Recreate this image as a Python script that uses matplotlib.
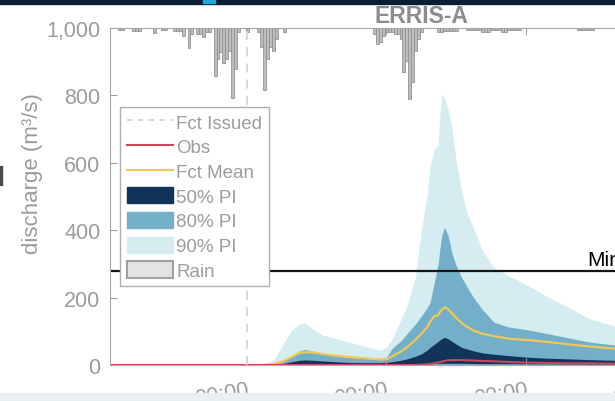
import numpy as np
import matplotlib.pyplot as plt
from matplotlib.patches import Patch, Rectangle
from matplotlib.lines import Line2D
from matplotlib.ticker import FuncFormatter

plt.rcParams['font.family'] = ['Liberation Sans', 'DejaVu Sans']

# horas relativas a la emision del pronostico
t_fc = [0, 2, 3.5, 4.5, 6, 7.5, 9, 10, 11.5, 13, 15, 17, 19.5, 21.5, 23, 24, 25, 26.5,
        27.5, 29, 30, 31, 31.5, 32.3, 32.9, 33.1, 33.5, 34, 34.6, 35.3, 36, 37, 38, 39,
        40.5, 42.5, 45, 48.5, 52, 55.5, 59, 63, 68, 76, 84]
p90_hi = [0, 2, 8, 13, 55, 100, 122, 125, 104, 89, 80, 70, 59, 50, 45, 52, 78, 134,
          175, 260, 400, 503, 592, 643, 652, 720, 805, 790, 760, 700, 605, 510, 445, 405,
          340, 290, 265, 235, 200, 170, 137, 117, 100, 85, 75]
p80_hi = [0, 0.5, 2, 5, 12, 25, 42, 46, 41, 33, 27, 23, 20, 18, 19, 23, 50, 72,
          92, 122, 145, 170, 185, 250, 300, 330, 384, 408, 385, 330, 295, 258, 228, 200,
          165, 127, 113, 104, 92, 80, 68, 60, 52, 45, 40]
p50_hi = [0, 0, 0.5, 1, 4, 9, 14, 15, 14, 12, 10, 8, 7, 7, 7, 8, 10, 14,
          18, 26, 33, 44, 52, 62, 70, 73, 78, 82, 78, 70, 62, 52, 47, 42,
          36, 32, 28, 23, 20, 18, 16, 14, 12, 10, 9]
p50_lo = [0, 0, 0, 0, 0.5, 1, 1.5, 2, 2, 2, 2, 2, 2, 2, 2, 2, 2, 2.5,
          3, 3, 3.5, 4, 4, 4.5, 5, 5, 5, 5, 5, 5, 5, 5, 4.5, 4.5,
          4, 4, 4, 3.5, 3.5, 3, 3, 3, 3, 2.5, 2.5]
fct_mean = [0, 0, 0.5, 2, 10, 22, 36, 38, 37, 33, 28, 25, 21, 18, 16, 17, 26, 40,
            52, 75, 92, 112, 128, 146, 147, 155, 163, 171, 166, 153, 140, 124, 112, 102,
            93, 86, 78, 74, 68, 61, 55, 49, 44, 40, 37]

t_obs = [-23.6, 28, 30, 31.5, 33, 34.5, 36, 38, 40.5, 42.5, 45, 48.5, 52, 55.5, 59, 63, 68, 76, 84]
obs = [0, 0, 1, 3, 8, 14, 15, 14, 12, 11, 9, 7, 6, 5, 5, 4, 4, 3, 3]

rain_t = [-22, -21.5, -19.5, -19, -18.5, -16, -14.5, -14, -12.5, -12, -11.5, -11, -10, -9.5,
          -8.5, -8, -7.5, -7, -6.5, -5.5, -5, -4.5, -4, -3.5, -3, -2.5, -2, -1.5, 0,
          2, 2.5, 3, 3.5, 4, 4.5, 5, 6.5,
          22, 22.5, 23, 23.5, 24, 24.5, 25, 25.5, 26, 26.5, 27, 27.5, 28, 28.5, 29, 29.5, 30,
          33, 33.5, 34, 34.5, 35, 35.5, 36, 38, 38.5, 39, 39.5, 40, 40.5, 41, 41.5,
          42, 42.5, 43, 43.5, 44, 44.5, 45, 45.5, 46, 46.5, 47,
          57, 57.5, 58, 58.5, 59, 59.5]
rain_mm = [0.25, 0.25, 0.35, 0.35, 0.35, 0.6, 0.25, 0.25, 0.35, 0.35, 0.35, 0.95, 2.4, 0.7,
           0.7, 0.7, 1.1, 0.5, 0.5, 5.7, 3.7, 2.9, 4.2, 3.7, 2.7, 8.3, 4.9, 0.5, 0.5,
           0.5, 2.3, 7.3, 3.7, 2.3, 2.7, 1.3, 0.5,
           0.7, 1.9, 1.7, 0.95, 0.5, 0.5, 0.5, 0.7, 0.7, 1.3, 5.2, 3.9, 8.4, 6.4, 2.7, 1.3, 0.5,
           0.5, 0.5, 0.35, 0.35, 0.35, 0.35, 0.35, 0.25, 0.25, 0.25, 0.25, 0.25, 0.5, 0.5, 0.5,
           0.25, 0.25, 0.25, 0.25, 0.5, 0.5, 0.25, 0.25, 0.25, 0.25, 0.25,
           0.25, 0.25, 0.25, 0.25, 0.25, 0.25]

minor_level = 278
xtick_hours = [0, 24, 48, 72]
xtick_labels = ['00:00', '00:00', '00:00', '00:00']

c_dark = '#12345a'
c_mid = '#74afc9'
c_light = '#d5ecf1'
c_mean = '#f7c84e'
c_obs = '#c8475b'
c_gray = '#9c9c9c'

fig = plt.figure(figsize=(6.15, 4.02), dpi=100)
ax = fig.add_axes([110 / 615, 36 / 402, 622 / 615, 337 / 402])
ax2 = ax.twinx()

# lluvia invertida desde arriba
ax2.bar(rain_t, rain_mm, width=0.5, color='#bdbdbd', edgecolor='#939393', linewidth=0.6)
ax2.set_ylim(40, 0)
ax2.set_axis_off()
ax.set_zorder(ax2.get_zorder() + 1)
ax.patch.set_visible(False)

ax.fill_between(t_fc, 0, p90_hi, color=c_light, lw=0)
ax.fill_between(t_fc, 0, p80_hi, color=c_mid, lw=0)
ax.fill_between(t_fc, p50_lo, p50_hi, color=c_dark, lw=0)
ax.plot(t_fc, fct_mean, color=c_mean, lw=1.5)
ax.plot(t_obs, obs, color=c_obs, lw=1.5)
ax.axvline(0, color='#d6d6d6', ls=(0, (5, 4)), lw=1.3)
ax.axhline(minor_level, color='#151515', lw=1.6)
ax.text(58.6, minor_level + 6, 'Minor', fontsize=15, color='black', va='bottom')

ax.set_xlim(-23.6, 83.5)
ax.set_ylim(0, 1000)
ax.set_yticks(range(0, 1001, 200))
ax.yaxis.set_major_formatter(FuncFormatter(lambda v, p: f'{v:,.0f}'))
ax.set_xticks(xtick_hours)
ax.set_xticklabels(xtick_labels, rotation=10, ha='right', rotation_mode='anchor')
ax.tick_params(direction='in', length=5, colors=c_gray, labelsize=15.5, top=True, right=True)
ax.tick_params(axis='x', pad=10)
ax.tick_params(axis='y', pad=7)
for s in ax.spines.values():
    s.set_color('#a8a8a8')

ax.set_ylabel('discharge (m³/s)', fontsize=16, color=c_gray)
ax.yaxis.set_label_coords(-(110 - 43) / 622, 0.57)
ax.set_title('ERRIS-A', fontsize=16.5, fontweight='bold', color='#8c8c8c', pad=4.5)

handles = [
    Line2D([], [], color='#d6d6d6', ls=(0, (3, 3)), lw=1.3),
    Line2D([], [], color=c_obs, lw=1.5),
    Line2D([], [], color=c_mean, lw=1.5),
    Patch(facecolor=c_dark, edgecolor=c_dark),
    Patch(facecolor=c_mid, edgecolor=c_mid),
    Patch(facecolor=c_light, edgecolor=c_light),
    Patch(facecolor='#e3e3e3', edgecolor='#a0a0a0', lw=1.5),
]
labels = ['Fct Issued', 'Obs', 'Fct Mean', '50% PI', '80% PI', '90% PI', 'Rain']
leg = ax.legend(handles, labels, loc='upper left', bbox_to_anchor=(0.016, 0.767),
                borderaxespad=0, fontsize=13.5, labelcolor=c_gray, fancybox=False,
                edgecolor='#b0b0b0', framealpha=1, handlelength=2.5, handleheight=0.95,
                handletextpad=0.15, labelspacing=0.33, borderpad=0.35)
leg.get_frame().set_linewidth(1)

# bordes de la captura
fig.add_artist(Rectangle((0, 1 - 5 / 402), 1, 5 / 402, transform=fig.transFigure,
                         color='#0b1d33', zorder=10))
fig.add_artist(Rectangle((203 / 615, 1 - 4 / 402), 12 / 615, 4 / 402, transform=fig.transFigure,
                         color='#20a8d8', zorder=11))
fig.add_artist(Rectangle((0, 0), 1, 8 / 402, transform=fig.transFigure,
                         color='#e9f0f4', zorder=10))
fig.add_artist(Rectangle((0, (402 - 186) / 402), 2 / 615, 19 / 402, transform=fig.transFigure,
                         color='#4a4a4a', zorder=10))

fig.savefig('out.png', dpi=100)
